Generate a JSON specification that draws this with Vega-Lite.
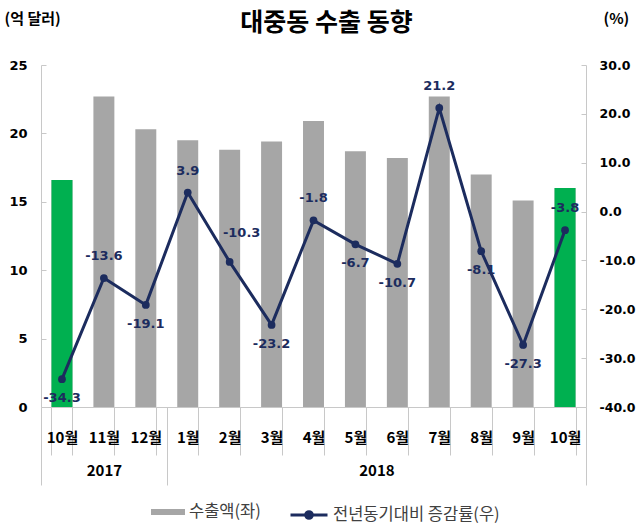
{
  "$schema": "https://vega.github.io/schema/vega-lite/v6.json",
  "width": 545,
  "height": 342,
  "autosize": {"type": "none"},
  "padding": {"left": 41, "top": 65, "right": 58, "bottom": 120},
  "background": "white",
  "config": {"view": {"stroke": null}, "axis": {"grid": false}},
  "title": {"text": "대중동 수출 동향", "font": "Noto Sans CJK KR", "fontSize": 25, "fontWeight": "bold", "color": "black", "anchor": "middle", "offset": -25, "dx": 13},
  "layer": [
    {
      "data": {"values": [
        {"key": "2017-10", "export": 16.6, "growth": -34.3},
        {"key": "2017-11", "export": 22.7, "growth": -13.6},
        {"key": "2017-12", "export": 20.3, "growth": -19.1},
        {"key": "2018-01", "export": 19.5, "growth": 3.9},
        {"key": "2018-02", "export": 18.8, "growth": -10.3},
        {"key": "2018-03", "export": 19.4, "growth": -23.2},
        {"key": "2018-04", "export": 20.9, "growth": -1.8},
        {"key": "2018-05", "export": 18.7, "growth": -6.7},
        {"key": "2018-06", "export": 18.2, "growth": -10.7},
        {"key": "2018-07", "export": 22.7, "growth": 21.2},
        {"key": "2018-08", "export": 17.0, "growth": -8.1},
        {"key": "2018-09", "export": 15.1, "growth": -27.3},
        {"key": "2018-10", "export": 16.0, "growth": -3.8}
      ]},
      "encoding": {
        "x": {"field": "key", "type": "ordinal", "sort": null,
          "scale": {"paddingInner": 0.5, "paddingOuter": 0.25},
          "axis": {"title": null, "labelAngle": 0, "labelExpr": "isValid(datum.value) && datum.value != '' ? toNumber(split(datum.value,'-')[1]) + '월' : ''",
            "labelFont": "Noto Sans CJK KR", "labelFontSize": 15, "labelFontWeight": "bold", "labelColor": "black",
            "tickBand": "extent", "tickSize": 48, "tickColor": "#c8c8c8", "domainColor": "#c8c8c8", "labelPadding": -25}}
      },
      "layer": [
        {
          "encoding": {"y": {"field": "export", "type": "quantitative", "scale": {"domain": [0, 25], "nice": false},
            "axis": {"orient": "left", "title": "(억 달러)", "titleAngle": 0, "titleAlign": "left", "titleBaseline": "middle", "titleX": -37, "titleY": -47,
              "titleFont": "Noto Sans CJK KR", "titleFontSize": 15, "titleFontWeight": "bold", "titleColor": "black",
              "values": [0, 5, 10, 15, 20, 25], "labelFont": "DejaVu Sans", "labelFontSize": 13, "labelFontWeight": "bold", "labelColor": "black",
              "labelPadding": 19, "tickSize": -5, "tickColor": "#c8c8c8", "domainColor": "#c8c8c8"}}},
          "layer": [
            {"mark": {"type": "bar"},
             "encoding": {"fill": {"datum": "수출액(좌)", "scale": {"range": ["#A6A6A6"]},
               "legend": {"title": null, "orient": "none", "legendX": 110, "legendY": 430, "symbolType": "M-1,-0.18H1V0.18H-1Z", "symbolSize": 1156, "symbolStrokeWidth": 0,
                 "labelFont": "Noto Sans CJK KR", "labelFontSize": 16.5, "labelColor": "#404040", "labelLimit": 400}}}},
            {"transform": [{"filter": {"field": "key", "oneOf": ["2017-10", "2018-10"]}}],
             "mark": {"type": "bar", "color": "#00B050"}}
          ]
        },
        {
          "encoding": {"y": {"field": "growth", "type": "quantitative", "scale": {"domain": [-40, 30], "nice": false, "zero": false},
            "axis": {"orient": "right", "title": "(%)", "titleAngle": 0, "titleAlign": "left", "titleBaseline": "middle", "titleX": 17, "titleY": -47,
              "titleFont": "Noto Sans CJK KR", "titleFontSize": 15, "titleFontWeight": "bold", "titleColor": "black",
              "values": [-40, -30, -20, -10, 0, 10, 20, 30], "labelExpr": "replace(format(datum.value, '.1f'), '−', '-')", "labelFont": "DejaVu Sans", "labelFontSize": 12.5, "labelFontWeight": "bold", "labelColor": "black",
              "labelPadding": 18, "tickSize": -5, "tickColor": "#c8c8c8", "domainColor": "#c8c8c8"}}},
          "layer": [
            {"mark": {"type": "line", "strokeWidth": 3},
             "encoding": {"stroke": {"datum": "전년동기대비 증감률(우)", "scale": {"range": ["#1c2c5e"]},
               "legend": {"title": null, "orient": "none", "legendX": 248, "legendY": 430, "symbolType": "M-1,0H1M-0.18,0A0.18,0.18,0,1,1,0.18,0A0.18,0.18,0,1,1,-0.18,0", "symbolSize": 1369, "symbolStrokeWidth": 3, "symbolFillColor": "#1c2c5e",
                 "labelFont": "Noto Sans CJK KR", "labelFontSize": 16.5, "labelColor": "#404040", "labelLimit": 400}}}},
            {"mark": {"type": "point", "filled": true, "shape": "circle", "size": 60, "color": "#1c2c5e", "opacity": 1}},
            {"transform": [{"filter": {"field": "key", "oneOf": ["2017-11", "2018-01", "2018-04", "2018-07", "2018-10"]}}],
             "mark": {"type": "text", "dy": -22, "font": "DejaVu Sans", "fontSize": 13, "fontWeight": "bold", "color": "#1c2c5e"},
             "encoding": {"text": {"field": "growth", "type": "nominal"}}},
            {"transform": [{"filter": {"field": "key", "oneOf": ["2017-10", "2017-12", "2018-03", "2018-05", "2018-06", "2018-08", "2018-09"]}}],
             "mark": {"type": "text", "dy": 19, "font": "DejaVu Sans", "fontSize": 13, "fontWeight": "bold", "color": "#1c2c5e"},
             "encoding": {"text": {"field": "growth", "type": "nominal"}}},
            {"transform": [{"filter": {"field": "key", "oneOf": ["2018-02"]}}],
             "mark": {"type": "text", "dx": 12, "dy": -29, "font": "DejaVu Sans", "fontSize": 13, "fontWeight": "bold", "color": "#1c2c5e"},
             "encoding": {"text": {"field": "growth", "type": "nominal"}}}
          ]
        }
      ],
      "resolve": {"scale": {"y": "independent"}}
    },
    {
      "data": {"values": [{"year": "2017", "months": 3}, {"year": "2018", "months": 10}]},
      "mark": {"type": "bar", "opacity": 0},
      "encoding": {
        "x": {"field": "months", "type": "quantitative", "stack": "zero",
          "scale": {"domain": [0, 13], "nice": false, "zero": true},
          "axis": {"orient": "bottom", "title": null, "domain": false, "grid": false, "values": [0, 1.5, 3, 8, 13],
            "labelExpr": "datum.value == 1.5 ? '2017' : datum.value == 8 ? '2018' : ''",
            "tickSize": 78, "tickColor": "#c8c8c8",
            "tickOpacity": {"condition": {"test": "datum.value == 1.5 || datum.value == 8", "value": 0}, "value": 1},
            "labelPadding": -22, "labelFlush": false, "labelOverlap": false,
            "labelFont": "Noto Sans CJK KR", "labelFontSize": 15, "labelFontWeight": "bold", "labelColor": "black"}},
        "detail": {"field": "year"}
      }
    }
  ],
  "resolve": {"scale": {"x": "independent", "y": "independent"}}
}
